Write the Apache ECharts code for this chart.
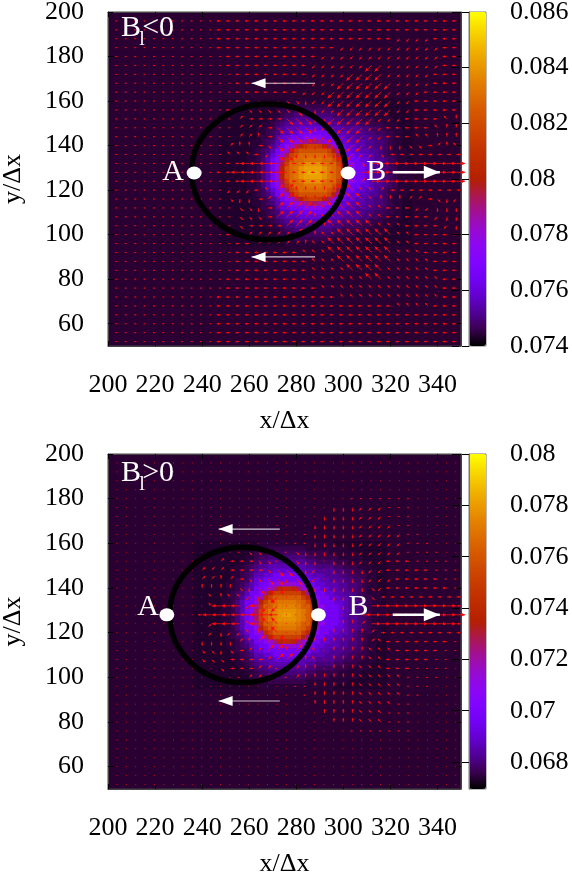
<!DOCTYPE html>
<html>
<head>
<meta charset="utf-8">
<style>html,body{margin:0;padding:0;background:#fff}#chart{width:572px;height:873px}</style>
<script src="https://cdn.jsdelivr.net/npm/echarts@6/dist/echarts.min.js"></script>
</head>
<body>
<div id="chart"></div>
<script>
// tick lists
const xTicks = [200, 220, 240, 260, 280, 300, 320, 340];
const yTicks = [60, 80, 100, 120, 140, 160, 180, 200];
const cbTicksTop = [0.074, 0.076, 0.078, 0.08, 0.082, 0.084, 0.086];
const cbTicksBottom = [0.068, 0.07, 0.072, 0.074, 0.076, 0.078, 0.08];
const cbRangeTop = [0.074, 0.086];
const cbRangeBottom = [0.06695, 0.08];

// gnuplot 7,5,15 palette
const palette = ['#000000', '#39004f', '#510096', '#6301ce', '#7202f3', '#8004ff', '#8c07f3', '#970bce', '#a11096', '#ab174f', '#b42000',
  '#bd2a00', '#c63700', '#ce4600', '#d55700', '#dd6c00', '#e48300', '#eb9d00', '#f2ba00', '#f9db00', '#ffff00'];

// halo levels 0..10 in colour bar fractions, above 10 it is level/35
const haloFractions = [0, 0.029, 0.036, 0.047, 0.062, 0.08, 0.1, 0.125, 0.16, 0.21, 0.28];

// density, one base-36 level per 2x2 cell.
// first entry is the row y=128, next ones go away from it (the picture is mirror symmetric in y)
const heatTop = [
  "111111223579c ioqrtuv vutrqoi ca998766543222",
  "111111223579c ioqrtuu uutrqoi ca998766543222",
  "111111223579b gmqqrtt ttrqqmg ba998766543222",
  "111111223579a ekoqqrr rrqqoke a9988766543221",
  "1111112234689 bgmoqqq qqqomgb 99887765433221",
  "1111111234579 achmooo ooomhca 98877665432221",
  "1111111223467 9acfilm mlifca9 88776655432211",
  "1111111223457 89abcef fecba98 87776655432211",
  "1111111123346 88999aa aa99988 77666554432211",
  "1111111122345 7788999 9998877 76665544332211",
  "1111111122335 6777888 8887776 66655443322211",
  "1111111112234 5667777 7777665 55544333222111",
  "1111111111223 4556666 6666554 44433322221111",
  "1111111111122 3445555 5555443 33332222211111",
  "1111111111112 3334444 4444333 33222222111111",
  "1111111111111 2223333 3333222 22222211111111",
  "1111111111111 1222222 2222222 22211111111111"
];
const heatBottom = [
  "111111223579a fmprstu utsrpmf a9998766543222",
  "111111223579a fmprstt ttsrpmf a9998766543222",
  "111111223579a dkpprss ssrppkd a9998766543222",
  "1111112235799 bimpqrr rrqpmib 99988766543221",
  "1111112234689 adjmppp pppmjda 99887765433221",
  "1111111234579 9aeimmm mmmiea9 98877665432221",
  "1111111223467 99acfij jifca99 88776655432211",
  "1111111223457 899aacc ccaa998 87776655432211",
  "1111111123346 8899999 9999988 77666554432211",
  "1111111122345 7788999 9998877 76665544332211",
  "1111111122335 6777888 8887776 66655443322211",
  "1111111112234 5667777 7777665 55544333222111",
  "1111111111223 4556666 6666554 44433322221111",
  "1111111111122 3445555 5555443 33332222211111",
  "1111111111112 3334444 4444333 33222222111111",
  "1111111111111 2223333 3333222 22222211111111",
  "1111111111111 1222222 2222222 22211111111111"
];
const heatStartX = { top: 248, bottom: 237 };

// flow arrows on the 4x4 grid, x=204..348, rows y=128+dy, dy=0,4,8...
// keys: q w e / a d / z x c are directions, upper case = long, . = short dash, , = dot
const arrowsTop = [
  ".......... .aaAAAAAA aaaaaa aDDDDDD DDDDD",
  ".......... ..aaAAAAz aaaaaz ZcDDDDD DDDDD",
  ".......... ..qqqazCC xxxxxZ Zzzcddd ddddd",
  ".......... ..ewwdcCC xxxxzZ ZZzxxxc cdewq",
  ".......... ...eewdCC CCxzZZ ZZzzaaa qqwww",
  ".......... ...eeedCC CCxzZZ ZZzzaaa aaqww",
  ".......... ...eddddC CCxxZZ ZZZzzza aaaqw",
  ".......... ..aaccccc CCxzzZ ZZZZZzz aaaaa",
  ".......... ...aacccc cxzzZZ ZZZZZzz aaaaa",
  ".......... ...aaaaaa azzzZZ ZZZZZzz zaaaa",
  ".......... ...aaaaaa aazzzZ ZZZZZzz zzaaa",
  ".......... ...aaaaaa aazzzz ZZZZzzz zzaaa",
  ".......... ..aaaaaaa aazzzz zzZZzzz zzzaa",
  ".......... ..aaaaaaa aaazzz zzzzzzz zzzaa",
  ".......... .aaaaaaaa aaaaaz zzzzzzz zzzaa",
  ".......... .aaaaaaaa aaaaaa aaaaazz zzaaa",
  ".......... .aaaaaaaa aaaaaa aaaaaaa aaaaa",
  ".......... .aaaaaaaa aaaaaa aaaaaaa aaaaa",
  ".......... .aaaaaaaa aaaaaa aaaaaaa aaaaa",
  ".......... .aaaaaaaa aaaaaa aaaaaaa aaaaa"
];
const arrowsBottom = [
  ",,,,,,,,,a AAAAAAAA, ,,,,,, ,DDDDDD DDDDD",
  ",,,,,,,,,, qAAAzAZZ, ,,,,,x xcDDDDD DDDDd",
  ",,,,,,,,,, qwqqzxCZ, ,,,,xx xxcdddd ddddd",
  ",,,,,,,,,w wwwcxCCCz xxxxxx xxczaaa aaaa.",
  ",,,,,,,,,e ewedccCCx Cxz,xx xxzzzaa aaa..",
  ",,,,,,,,,e eeddddcCC Cxz,xx xxzzaaa aa...",
  ",,,,,,,,,, ,edddcc.c cxx,xx xzzzaaa ....,",
  ",,,,,,,,,, ,,,.ccc.. cxxxxx xzzzzz. ...,,",
  ",,,,,,,,,, ,,,,,,,,, ..xxxx xzzzzz. ..,,,",
  ",,,,,,,,,, ,,,,,,,,, ,.xxxx xzzzzz. .,,,,",
  ",,,,,,,,,, ,,,,,,,,, ,,xxxx xzzzz.. ,,,,,",
  ",,,,,,,,,, ,,,,,,,,, ,,,xxx xzzz... ,,,,,",
  ",,,,,,,,,, ,,,,,,,,, ,,,,xx xzzz... ,,,,,",
  ",,,,,,,,,, ,,,,,,,,, ,,,,,, ....... ,,,,,",
  ",,,,,,,,,, ,,,,,,,,, ,,,,,, ,,,,,,, ,,,,,",
  ",,,,,,,,,, ,,,,,,,,, ,,,,,, ,,,,,,, ,,,,,",
  ",,,,,,,,,, ,,,,,,,,, ,,,,,, ,,,,,,, ,,,,,",
  ",,,,,,,,,, ,,,,,,,,, ,,,,,, ,,,,,,, ,,,,,",
  ",,,,,,,,,, ,,,,,,,,, ,,,,,, ,,,,,,, ,,,,,",
  ",,,,,,,,,, ,,,,,,,,, ,,,,,, ,,,,,,, ,,,,,"
];

// ring [cx, cy, rx, ry], white dots, white arrows [x0, y0, x1, y1, thick], labels [x, y, text]
const ringTop = [[268.3, 128.2, 32.8, 30.5]];
const ringBottom = [[257.2, 128, 31, 30.3]];
const dotsTop = [[236.6, 127.7], [302, 127.7]];
const dotsBottom = [[225, 128], [289.4, 128]];
const whiteArrowsTop = [[288, 168, 261, 168, 0], [288, 90, 261, 90, 0], [321, 128, 341, 128, 1]];
const whiteArrowsBottom = [[273, 166.4, 247, 166.4, 0], [273, 89.4, 247, 89.4, 0], [321, 128, 341, 128, 1]];
const labelsTop = [[227.7, 128, 'A'], [314, 128, 'B'], [209.8, 192.8, 'B'], [221.3, 192.8, '<0']];
const labelsBottom = [[217, 131.5, 'A'], [306.4, 131.5, 'B'], [209.8, 191.5, 'B'], [221.3, 191.5, '>0']];
const subTop = [[214.5, 187.4, 'l']];
const subBottom = [[214.5, 186.4, 'l']];

const FONT = '"Liberation Serif"';
const arrowDir = { q: [-1, 1], w: [0, 1], e: [1, 1], a: [-1, 0], d: [1, 0], z: [-1, -1], x: [0, -1], c: [1, -1] };

function heatData(rows, startX, range) {
  var out = [];
  rows.forEach(function (row, k) {
    var cells = row.replace(/ /g, '');
    for (var i = 0; i < cells.length; i++) {
      var level = parseInt(cells[i], 36);
      var f = level <= 10 ? haloFractions[level] : level / 35;
      var v = range[0] + f * (range[1] - range[0]);
      out.push([startX + 2 * i, 128 + 2 * k, v]);
      if (k > 0) out.push([startX + 2 * i, 128 - 2 * k, v]);
    }
  });
  return out;
}

function arrowData(rows) {
  var out = [];
  function push(x, y, u, v) {
    if (y > 50 && y < 199) out.push([x, y, u, v]);
  }
  rows.forEach(function (row, k) {
    var cells = row.replace(/ /g, '');
    for (var i = 0; i < cells.length; i++) {
      var c = cells[i], u, v;
      if (c === ',') { u = -0.4; v = 0; }
      else if (c === '.') { u = -0.9; v = 0; }
      else {
        var d = arrowDir[c.toLowerCase()];
        var len = c === c.toLowerCase() ? 1.8 : 3.8;
        var n = Math.sqrt(d[0] * d[0] + d[1] * d[1]);
        u = d[0] / n * len; v = d[1] / n * len;
      }
      push(204 + 4 * i, 128 + 4 * k, u, v);
      if (k > 0) push(204 + 4 * i, 128 - 4 * k, u, -v);
    }
  });
  return out;
}

function head(p, q, hl, hw) {
  var dx = q[0] - p[0], dy = q[1] - p[1];
  var n = Math.sqrt(dx * dx + dy * dy) || 1;
  dx /= n; dy /= n;
  var bx = q[0] - dx * hl, by = q[1] - dy * hl;
  return [[q[0], q[1]], [bx - dy * hw, by + dx * hw], [bx + dy * hw, by - dx * hw]];
}

function renderHeat(params, api) {
  var x = api.value(0), y = api.value(1);
  var a = api.coord([x - 1, y + 1]), b = api.coord([x + 1, y - 1]);
  return { type: 'rect', shape: { x: a[0], y: a[1], width: b[0] - a[0] + 0.6, height: b[1] - a[1] + 0.6 }, style: { fill: api.visual('color') } };
}

function renderArrow(params, api) {
  var x = api.value(0), y = api.value(1);
  var p = api.coord([x, y]), q = api.coord([x + api.value(2), y + api.value(3)]);
  var len = Math.sqrt((q[0] - p[0]) * (q[0] - p[0]) + (q[1] - p[1]) * (q[1] - p[1]));
  var hl = Math.min(3.5, len * 0.55);
  return {
    type: 'group',
    children: [
      { type: 'line', shape: { x1: p[0], y1: p[1], x2: q[0], y2: q[1] }, style: { stroke: '#f01010', lineWidth: 1, opacity: 0.85 } },
      { type: 'polygon', shape: { points: head(p, q, hl, hl * 0.5) }, style: { fill: '#ff0a0a' } }
    ]
  };
}

function renderRing(params, api) {
  var c = api.coord([api.value(0), api.value(1)]);
  var s = api.size([api.value(2), api.value(3)]);
  return { type: 'ellipse', shape: { cx: c[0], cy: c[1], rx: s[0], ry: s[1] }, style: { fill: 'none', stroke: '#000', lineWidth: 5.5 } };
}

function renderWhiteArrow(params, api) {
  var p = api.coord([api.value(0), api.value(1)]), q = api.coord([api.value(2), api.value(3)]);
  var thick = api.value(4) === 1;
  return {
    type: 'group',
    children: [
      { type: 'line', shape: { x1: p[0], y1: p[1], x2: q[0], y2: q[1] }, style: { stroke: thick ? '#fff' : '#cfc4d2', lineWidth: thick ? 2.5 : 1.2 } },
      { type: 'polygon', shape: { points: head(p, q, thick ? 16 : 14, thick ? 6.5 : 5) }, style: { fill: '#fff' } }
    ]
  };
}

function textRenderer(size) {
  return function (params, api) {
    var c = api.coord([api.value(0), api.value(1)]);
    return { type: 'text', x: c[0], y: c[1], style: { text: String(api.value(2)), fill: '#fff', font: size + 'px ' + FONT, textAlign: 'center', textVerticalAlign: 'middle' } };
  };
}

function panelSeries(idx, heat, arrows, ring, dots, whiteArrows, labels, sub) {
  var ax = { xAxisIndex: idx, yAxisIndex: idx, silent: true, animation: false };
  return [
    Object.assign({ type: 'custom', renderItem: renderHeat, data: heat, encode: { x: 0, y: 1 }, z: 1, progressive: 0 }, ax),
    Object.assign({ type: 'custom', renderItem: renderArrow, data: arrows, encode: { x: 0, y: 1 }, z: 2, progressive: 0 }, ax),
    Object.assign({ type: 'custom', renderItem: renderRing, data: ring, encode: { x: 0, y: 1 }, z: 3 }, ax),
    Object.assign({ type: 'scatter', data: dots, symbol: 'circle', symbolSize: [15, 13], itemStyle: { color: '#fff', opacity: 1 }, z: 4 }, ax),
    Object.assign({ type: 'custom', renderItem: renderWhiteArrow, data: whiteArrows, encode: { x: 0, y: 1 }, z: 4 }, ax),
    Object.assign({ type: 'custom', renderItem: textRenderer(30), data: labels, dimensions: ['x', 'y', { name: 't', type: 'ordinal' }], encode: { x: 0, y: 1 }, z: 5 }, ax),
    Object.assign({ type: 'custom', renderItem: textRenderer(20), data: sub, dimensions: ['x', 'y', { name: 't', type: 'ordinal' }], encode: { x: 0, y: 1 }, z: 5 }, ax)
  ];
}

function tickStyle(values) {
  return { show: true, inside: true, length: 5, customValues: values, lineStyle: { color: '#000', width: 1 } };
}

function mainAxes(gridIndex) {
  var labelStyle = { fontFamily: FONT, fontSize: 26, color: '#000' };
  return {
    x: { type: 'value', gridIndex: gridIndex, min: 200, max: 350, name: 'x/Δx', nameLocation: 'middle', nameGap: 62, nameTextStyle: labelStyle,
      axisLine: { lineStyle: { color: '#444' } }, splitLine: { show: false }, axisTick: tickStyle(xTicks),
      axisLabel: Object.assign({ margin: 26, customValues: xTicks, hideOverlap: false, showMinLabel: true }, labelStyle) },
    y: { type: 'value', gridIndex: gridIndex, min: 50, max: 200, name: 'y/Δx', nameLocation: 'middle', nameGap: 82, nameTextStyle: labelStyle,
      axisLine: { lineStyle: { color: '#444' } }, splitLine: { show: false }, axisTick: tickStyle(yTicks),
      axisLabel: Object.assign({ margin: 24, customValues: yTicks, hideOverlap: false, showMaxLabel: true }, labelStyle) },
    mx: { type: 'value', gridIndex: gridIndex, min: 200, max: 350, position: 'top', axisLine: { lineStyle: { color: '#444' } }, splitLine: { show: false }, axisTick: tickStyle(xTicks), axisLabel: { show: false } },
    my: { type: 'value', gridIndex: gridIndex, min: 50, max: 200, position: 'right', axisLine: { lineStyle: { color: '#444' } }, splitLine: { show: false }, axisTick: tickStyle(yTicks), axisLabel: { show: false } }
  };
}

function cbAxes(gridIndex, range, ticks) {
  return {
    x: { type: 'value', gridIndex: gridIndex, min: 0, max: 1, show: false },
    y: { type: 'value', gridIndex: gridIndex, min: range[0], max: range[1], position: 'right', z: 10,
      axisLine: { lineStyle: { color: '#777' } }, splitLine: { show: false },
      axisTick: { show: true, inside: true, length: 17, customValues: ticks, lineStyle: { color: '#000', width: 1, type: [7, 3] } },
      axisLabel: { margin: 24, customValues: ticks, fontFamily: FONT, fontSize: 26, color: '#000', hideOverlap: false, formatter: function (v) { return String(+v.toFixed(3)); } } }
  };
}

var a0 = mainAxes(0), a1 = mainAxes(1), c0 = cbAxes(2, cbRangeTop, cbTicksTop), c1 = cbAxes(3, cbRangeBottom, cbTicksBottom);
var plotBg = '#2a0032';

var chart = echarts.init(document.getElementById('chart'), null, { renderer: 'canvas' });
chart.setOption({
  animation: false,
  backgroundColor: '#fff',
  grid: [
    { left: 108, top: 12, width: 353, height: 334, show: true, backgroundColor: plotBg, borderColor: '#444', outerBoundsMode: 'none' },
    { left: 108, top: 454, width: 353, height: 335, show: true, backgroundColor: plotBg, borderColor: '#444', outerBoundsMode: 'none' },
    { left: 469, top: 12, width: 17, height: 334, show: true, borderColor: '#777', outerBoundsMode: 'none' },
    { left: 469, top: 454, width: 17, height: 335, show: true, borderColor: '#777', outerBoundsMode: 'none' }
  ],
  xAxis: [a0.x, a1.x, a0.mx, a1.mx, c0.x, c1.x],
  yAxis: [a0.y, a1.y, a0.my, a1.my, c0.y, c1.y],
  visualMap: [
    { type: 'continuous', min: cbRangeTop[0], max: cbRangeTop[1], seriesIndex: 0, dimension: 2, calculable: false, realtime: false, left: 469, top: 12, itemWidth: 17, itemHeight: 334, padding: 0, inRange: { color: palette }, z: 1 },
    { type: 'continuous', min: cbRangeBottom[0], max: cbRangeBottom[1], seriesIndex: 7, dimension: 2, calculable: false, realtime: false, left: 469, top: 454, itemWidth: 17, itemHeight: 335, padding: 0, inRange: { color: palette }, z: 1 }
  ],
  series: panelSeries(0, heatData(heatTop, heatStartX.top, cbRangeTop), arrowData(arrowsTop), ringTop, dotsTop, whiteArrowsTop, labelsTop, subTop)
    .concat(panelSeries(1, heatData(heatBottom, heatStartX.bottom, cbRangeBottom), arrowData(arrowsBottom), ringBottom, dotsBottom, whiteArrowsBottom, labelsBottom, subBottom))
});
</script>
</body>
</html>
